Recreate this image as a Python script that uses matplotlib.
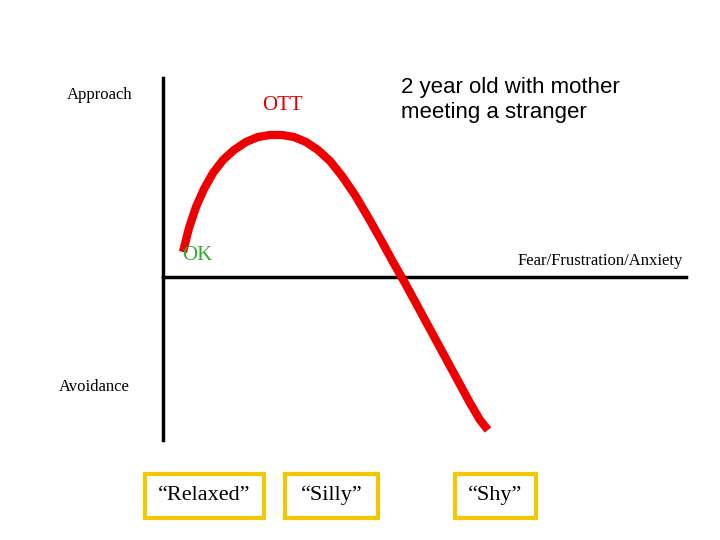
import matplotlib.pyplot as plt
from matplotlib.patches import Rectangle

# curve (pixel coordinates, y downwards)
curve_x = [183, 189, 196, 204, 213, 223, 234, 246, 258, 270, 282, 294, 306,
           318, 330, 342, 355, 368, 381, 393, 405, 418, 431, 444, 457, 470, 480, 488]
curve_y = [252, 228, 207, 189, 173, 160, 150, 142, 137, 135, 135, 137, 142,
           150, 161, 176, 195, 217, 240, 262, 283, 307, 331, 355, 379, 403, 420, 430]

box_labels = ["\u201cRelaxed\u201d", "\u201cSilly\u201d", "\u201cShy\u201d"]
box_lefts = [145, 285, 455]
box_widths = [119, 93, 81]

plt.rcParams['font.family'] = ['Liberation Serif', 'DejaVu Serif']

fig = plt.figure(figsize=(7.2, 5.4), dpi=100)
ax = fig.add_axes([0, 0, 1, 1])
ax.set_xlim(0, 720)
ax.set_ylim(540, 0)
ax.axis("off")

# axes of the diagram
ax.plot([163, 163], [78, 440], color="black", lw=2.5)
ax.plot([163, 686], [277, 277], color="black", lw=2.5)

ax.plot(curve_x, curve_y, color="#ee0000", lw=6, solid_capstyle="butt",
        solid_joinstyle="round")

ax.text(100, 95, "Approach", fontsize=12, ha="center", va="center")
ax.text(94, 387, "Avoidance", fontsize=12, ha="center", va="center")
ax.text(282, 105, "OTT", fontsize=15, color="#dd0000", ha="center", va="center")
ax.text(197, 256, "OK", fontsize=15, color="#33aa33", ha="center", va="center")
ax.text(600, 261, "Fear/Frustration/Anxiety", fontsize=12, ha="center", va="center")
ax.text(401, 100, "2 year old with mother\nmeeting a stranger", fontsize=16,
        ha="left", va="center", linespacing=1.3,
        family=['Liberation Sans', 'DejaVu Sans'])

for label, left, width in zip(box_labels, box_lefts, box_widths):
    ax.add_patch(Rectangle((left, 474), width, 44, fill=False,
                           edgecolor="#f2c800", lw=3))
    ax.text(left + width / 2, 495, label, fontsize=16, ha="center", va="center")

fig.savefig("out.png", dpi=100)
